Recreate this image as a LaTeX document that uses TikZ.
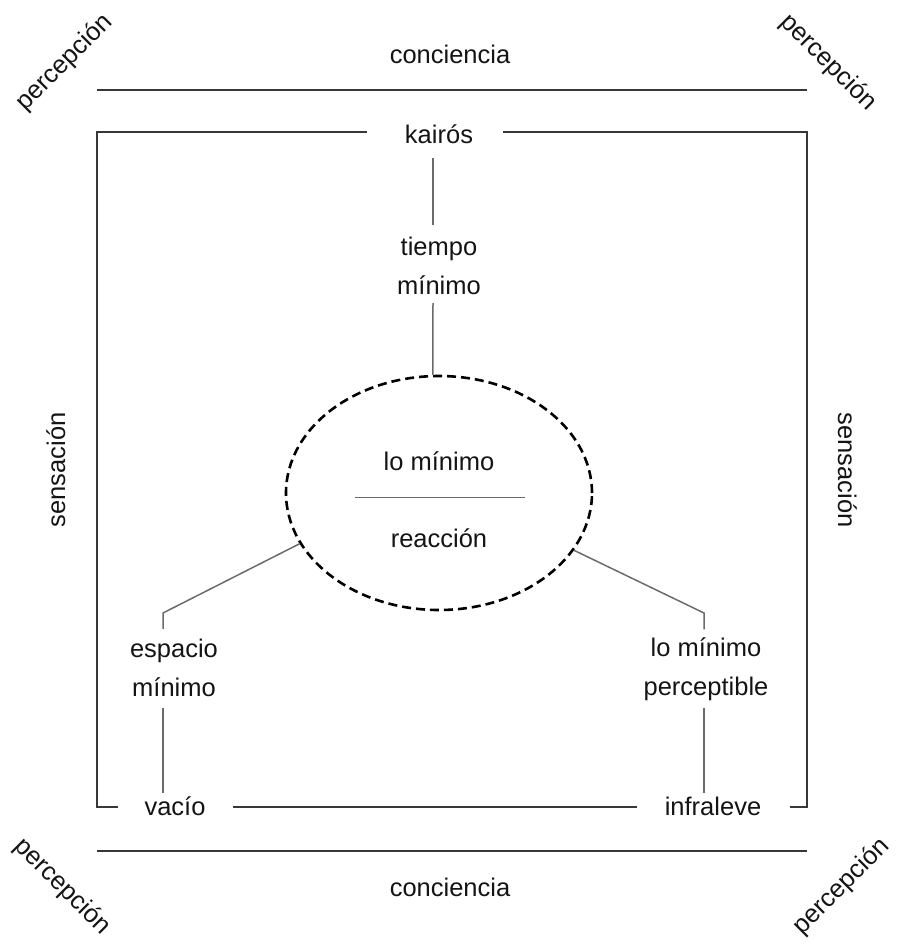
\documentclass[tikz,border=0pt]{standalone}
\usepackage{fontspec}
\setmainfont{Liberation Sans}
\usetikzlibrary{shapes.geometric,calc}
\begin{document}
\begin{tikzpicture}[x=1pt,y=-1pt,
  lbl/.style={font=\fontsize{25.5}{39}\selectfont, text=black!92, inner sep=0pt, align=center},
  framel/.style={draw=black!78, line width=1.3pt},
  branch/.style={draw=black!58, line width=1.5pt},
  corebox/.style={draw=black, line width=2.6pt, dash pattern=on 9pt off 5pt, ellipse, minimum width=306pt, minimum height=234pt, inner sep=0pt}]
\useasboundingbox (0,0) rectangle (900,945);
% labels
\node[lbl, anchor=base] (concTop) at (450,63) {conciencia};
\node[lbl, anchor=base] (concBot) at (450,896) {conciencia};
\node[lbl, anchor=base] (kairos) at (439,143) {kairós};
\node[lbl] (tiempo) at (439,266) {tiempo\\mínimo};
\node[lbl] (espacio) at (174,668) {espacio\\mínimo};
\node[lbl] (lomin) at (706,669) {lo mínimo\\perceptible};
\node[lbl, anchor=base] (vacio) at (175,815) {vacío};
\node[lbl, anchor=base] (infra) at (713,815) {infraleve};
\node[lbl, anchor=base, rotate=90] (sensL) at (65,470) {sensación};
\node[lbl, anchor=base, rotate=-90] (sensR) at (838,470) {sensación};
\node[lbl, rotate=45] (percTL) at (65,63) {percepción};
\node[lbl, rotate=-45] (percTR) at (828,63) {percepción};
\node[lbl, rotate=-45] (percBL) at (62,887) {percepción};
\node[lbl, rotate=45] (percBR) at (842,887) {percepción};
% central ellipse
\node[corebox] (core) at (439,493) {};
\node[lbl, anchor=base] (lomC) at (439,470) {lo mínimo};
\node[lbl, anchor=base] (reac) at (439,547) {reacción};
\draw[branch] ($(lomC.south)+(-84,27)$) coordinate (divL) -- ($(lomC.south)+(86,27)$) coordinate (divR);
% frame coordinates
\coordinate (ctl) at (97,90);
\coordinate (ctr) at (807,90);
\coordinate (cbl) at (97,851);
\coordinate (cbr) at (807,851);
\coordinate (boxNW) at (97,132);
\coordinate (boxNE) at (807,132);
\coordinate (boxSW) at (97,807);
\coordinate (boxSE) at (807,807);
\coordinate (kL) at (367,132);
\coordinate (kR) at (503,132);
\coordinate (vL) at (118,807);
\coordinate (vR) at (233,807);
\coordinate (iL) at (637,807);
\coordinate (iR) at (790,807);
% conciencia lines
\draw[framel] (ctl) -- (ctr);
\draw[framel] (cbl) -- (cbr);
% frame
\draw[framel] (kL) -- (boxNW) -- (boxSW) -- (vL);
\draw[framel] (kR) -- (boxNE) -- (boxSE) -- (iR);
\draw[framel] (vR) -- (iL);
% top branch
\draw[branch] ($(kairos.south)+(-6,15)$) -- ($(tiempo.north)+(-6,-12)$);
\draw[branch] ($(tiempo.south)+(-6,8)$) -- (core.93);
% left branch
\coordinate (lk) at (163,613);
\draw[branch] (core.200) -- (lk) -- ($(espacio.north)+(-11,-10)$);
\draw[branch] ($(espacio.south)+(-11,11)$) -- ($(vacio.north)+(-12,-3)$);
% right branch
\coordinate (rk) at (704,613);
\draw[branch] (core.337) -- (rk) -- ($(lomin.north)+(-2,-8)$);
\draw[branch] ($(lomin.south)+(-2,7)$) -- ($(infra.north)+(-9,-3)$);
\end{tikzpicture}
\end{document}
